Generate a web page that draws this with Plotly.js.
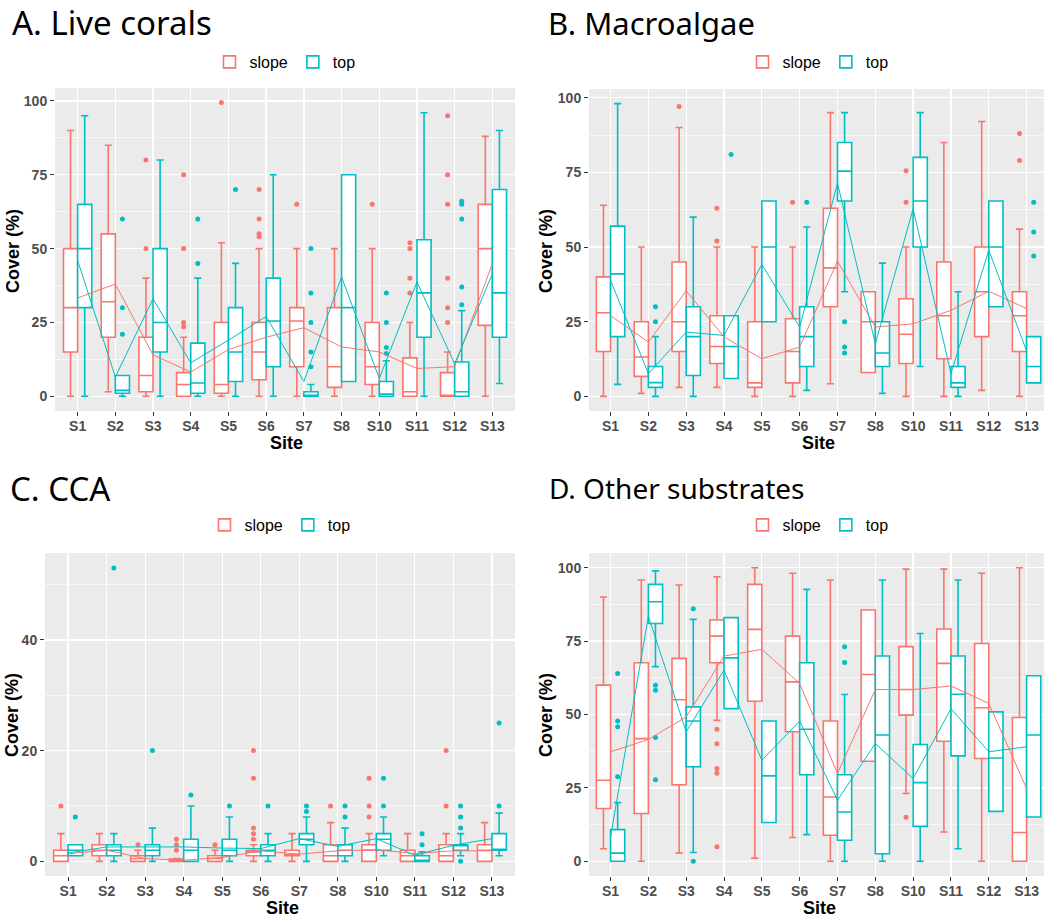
<!DOCTYPE html>
<html><head><meta charset="utf-8">
<script src="https://cdn.plot.ly/plotly-3.0.1.min.js"></script>
<style>html,body{margin:0;padding:0;background:#fff}#chart{width:1044px;height:918px}</style>
</head><body><div id="chart"></div>
<script>
const sites = ['S1','S2','S3','S4','S5','S6','S7','S8','S10','S11','S12','S13'];
const groups = ['slope','top'];

// A. Live corals
const coralSlopeLow  = [0, 1.5, 0, 0, 0, 0, 0, 0, 0, 0, 0, 0];
const coralSlopeQ1   = [15, 20, 1.5, 0, 1, 5.6, 10, 3, 4, 0, 0, 24];
const coralSlopeMed  = [30, 32, 7, 4, 4, 15, 25.5, 10, 10, 1.5, 0, 50];
const coralSlopeQ3   = [50, 55, 20, 8, 25, 25, 30, 30, 25, 13, 8, 65];
const coralSlopeHigh = [90, 85, 40, 20, 52, 50, 50, 50, 50, 25, 15, 88];
const coralSlopeOut  = [[], [], [80, 50, 25, 23.5], [75, 50, 25, 23.5], [99.5], [70, 60, 55, 54], [65], [], [65], [52, 50, 40, 35], [95, 75, 65, 40, 30, 25], []];
const coralSlopeMean = [33.3, 38, 14, 8.2, 15.8, 20, 23.2, 16.7, 15, 9.4, 10, 45];
const coralTopLow  = [0, 0, 0, 0, 0, 0, 0, 5, 0, 0, 0, 4.3];
const coralTopQ1   = [30, 1, 15, 1, 5, 10, 0, 5, 0, 20, 0, 20];
const coralTopMed  = [50, 2, 25, 4.5, 15, 25.5, 0, 30, 0.7, 35, 1.5, 35];
const coralTopQ3   = [65, 7, 50, 18, 30, 40, 1.5, 75, 5, 53, 11.6, 70];
const coralTopHigh = [95, 7, 80, 40, 45, 75, 4, 75, 12, 96, 29, 90];
const coralTopOut  = [[], [60, 30, 21], [], [60, 45], [70], [], [50, 35, 25, 15, 10], [], [35, 25, 16.5, 14.5], [], [66, 65, 60, 37, 31], []];
const coralTopMean = [46, 6.5, 33, 11.3, 19, 27, 5, 40.4, 6, 38.7, 11, 41.5];

// B. Macroalgae
const algaeSlopeLow  = [0, 1, 3, 3, 0, 0, 4.2, 8, 0, 0, 2, 0];
const algaeSlopeQ1   = [15, 6.7, 15, 11, 3, 4.5, 30, 8, 11, 12.6, 20, 15];
const algaeSlopeMed  = [28, 13.2, 25, 16.7, 4.5, 15, 43, 25, 20.8, 27, 35, 27];
const algaeSlopeQ3   = [40, 25, 45, 27, 25, 26, 63, 35, 32.7, 45, 50, 35];
const algaeSlopeHigh = [64, 50, 90, 50, 50, 50, 95, 35, 50, 85, 92, 56];
const algaeSlopeOut  = [[], [], [97], [63, 52], [], [65], [], [], [75.5, 65], [], [], [88, 79]];
const algaeSlopeMean = [27, 18.2, 35.3, 19.9, 12.6, 16.5, 45.3, 23.2, 24.3, 28.8, 35.2, 29.4];
const algaeTopLow  = [4, 0, 0, 6, 25, 2, 35, 1, 10, 0, 30, 4.5];
const algaeTopQ1   = [20, 3, 7, 6, 25, 10, 65.4, 10, 50, 3, 30, 4.5];
const algaeTopMed  = [41, 4.6, 20, 16.7, 50, 20, 75.4, 14.5, 65.4, 4.5, 50, 10];
const algaeTopQ3   = [57, 10, 30, 27, 65.4, 30, 85, 25, 80, 10, 65.4, 20];
const algaeTopHigh = [98, 20, 60, 27, 65.4, 56.7, 95, 44.6, 95, 35, 65.4, 20];
const algaeTopOut  = [[], [30, 25], [], [81], [], [65], [25, 16.5, 14.5], [], [], [25, 22], [], [65, 55, 47]];
const algaeTopMean = [38.8, 7.6, 21.5, 20.4, 44.2, 23.2, 71.4, 17.6, 62.8, 7.6, 48.9, 15.2];

// C. CCA
const ccaSlopeLow  = [0, 0, 0, 0, 0, 0, 0, 0, 0, 0, 0, 0];
const ccaSlopeQ1   = [0, 1, 0, 0, 0, 1, 1, 0, 0, 0, 0, 0];
const ccaSlopeMed  = [1, 2, 0.5, 0, 0.5, 1.7, 1, 1, 2, 1, 1, 2];
const ccaSlopeQ3   = [2, 3, 1, 0.4, 1, 2, 2, 3, 3, 2, 3, 3];
const ccaSlopeHigh = [5, 5, 2, 0.5, 2, 3, 5, 7, 5, 5, 5, 7];
const ccaSlopeOut  = [[10], [], [3], [4, 3, 2], [3], [20, 15, 6, 5, 4], [], [10], [15, 10, 8], [], [20, 10], []];
const ccaSlopeMean = [1.4, 2, 0.5, 0.2, 0.7, 1.9, 1.3, 1.9, 2.1, 1.4, 1.9, 1.9];
const ccaTopLow  = [1, 0, 0, 0, 0, 0, 0, 0, 1, 0, 1, 1];
const ccaTopQ1   = [1, 1, 1, 0, 1, 1, 3, 1, 2, 0, 2, 2];
const ccaTopMed  = [2, 2, 2, 2, 2, 2, 4, 2, 4, 0, 2.9, 2];
const ccaTopQ3   = [3, 3, 3, 4, 4, 3, 5, 3, 5, 1, 3, 5];
const ccaTopHigh = [3, 5, 6, 10, 8, 5, 8, 6, 8, 1.7, 5, 8.7];
const ccaTopOut  = [[8], [53], [20], [12], [10], [10], [10, 9], [10, 8], [15, 10], [5, 3], [10, 8, 6, 5, 0], [25, 10]];
const ccaTopMean = [1.5, 2.6, 2.6, 2.6, 2.4, 2.3, 4.1, 2.7, 4.1, 1.1, 2.9, 4.1];

// D. Other substrates
const otherSlopeLow  = [4.3, 0, 2.8, 48, 1.1, 8.1, 0, 34.1, 23.1, 10, 0, 0];
const otherSlopeQ1   = [18, 16.3, 26.1, 67.6, 54.5, 44.1, 8.9, 34.1, 49.8, 40.9, 35, 0];
const otherSlopeMed  = [27.6, 41.8, 55, 76.7, 79, 61.1, 21.9, 63.6, 58.5, 67.4, 52.3, 9.8];
const otherSlopeQ3   = [60, 67.6, 69.1, 82.2, 94.3, 76.7, 47.8, 85.6, 73.1, 79.1, 74.2, 49];
const otherSlopeHigh = [90, 95.8, 94.1, 96.9, 100, 98.1, 95.8, 85.6, 99.5, 99.5, 98.1, 100];
const otherSlopeOut  = [[], [], [], [45, 40, 31.6, 30, 5], [], [], [], [], [15], [], [], []];
const otherSlopeMean = [37.3, 41.5, 49.2, 69.9, 72.2, 60.6, 29.9, 58.5, 58.5, 59.7, 53.8, 24.8];
const otherTopLow  = [0, 66.3, 3, 52, 13.2, 9.1, 0, 0, 0, 4.3, 17, 15.1];
const otherTopQ1   = [0, 81, 32.2, 52, 13.2, 29.5, 7.2, 2.6, 11.9, 35.9, 17, 15.1];
const otherTopMed  = [2.8, 88.4, 47.8, 69.3, 29.1, 45, 16.8, 43, 26.8, 56.9, 35.2, 43];
const otherTopQ3   = [10.8, 94.3, 52.6, 83, 47.8, 67.6, 29.5, 69.9, 39.8, 69.9, 50.9, 63.2];
const otherTopHigh = [20, 98.9, 82.4, 83, 47.8, 92.6, 56.8, 95.8, 77.6, 95.8, 50.9, 63.2];
const otherTopOut  = [[64, 47.8, 45.8, 28.8], [60, 58.3, 42.2, 27.8], [86, 0], [], [], [], [73.1, 67.7], [], [], [], [], []];
const otherTopMean = [8.3, 83.5, 44.1, 65.1, 34.4, 47.8, 20.8, 40.1, 28.2, 52, 37.3, 39];

const panelTitles = ['A. Live corals', 'B. Macroalgae', 'C. CCA', 'D. Other substrates'];
const colors = {slope: '#F8766D', top: '#00BFC4'};

const panels = [
  {id: 'A', xa: 'x',  ya: 'y',  lg: 'legend',
   slope: [coralSlopeLow, coralSlopeQ1, coralSlopeMed, coralSlopeQ3, coralSlopeHigh, coralSlopeOut, coralSlopeMean],
   top:   [coralTopLow, coralTopQ1, coralTopMed, coralTopQ3, coralTopHigh, coralTopOut, coralTopMean]},
  {id: 'B', xa: 'x2', ya: 'y2', lg: 'legend2',
   slope: [algaeSlopeLow, algaeSlopeQ1, algaeSlopeMed, algaeSlopeQ3, algaeSlopeHigh, algaeSlopeOut, algaeSlopeMean],
   top:   [algaeTopLow, algaeTopQ1, algaeTopMed, algaeTopQ3, algaeTopHigh, algaeTopOut, algaeTopMean]},
  {id: 'C', xa: 'x3', ya: 'y3', lg: 'legend3',
   slope: [ccaSlopeLow, ccaSlopeQ1, ccaSlopeMed, ccaSlopeQ3, ccaSlopeHigh, ccaSlopeOut, ccaSlopeMean],
   top:   [ccaTopLow, ccaTopQ1, ccaTopMed, ccaTopQ3, ccaTopHigh, ccaTopOut, ccaTopMean]},
  {id: 'D', xa: 'x4', ya: 'y4', lg: 'legend4',
   slope: [otherSlopeLow, otherSlopeQ1, otherSlopeMed, otherSlopeQ3, otherSlopeHigh, otherSlopeOut, otherSlopeMean],
   top:   [otherTopLow, otherTopQ1, otherTopMed, otherTopQ3, otherTopHigh, otherTopOut, otherTopMean]}
];

const traces = [];
const lines = [];
panels.forEach(p => {
  groups.forEach(g => {
    const [low, q1, med, q3, high, out, mean] = p[g];
    traces.push({
      type: 'box', name: g, orientation: 'v',
      x: sites, q1: q1, median: med, q3: q3, lowerfence: low, upperfence: high,
      y: out.map(a => a.length ? a : [null]),
      boxpoints: 'outliers', jitter: 0, pointpos: 0,
      alignmentgroup: p.id, offsetgroup: g,
      fillcolor: '#FFFFFF', line: {color: colors[g], width: 1.6},
      marker: {color: colors[g], size: 5, line: {width: 0}},
      xaxis: p.xa, yaxis: p.ya, legend: p.lg, legendgroup: p.id + g,
      hoverinfo: 'skip'
    });
    lines.push({
      type: 'scatter', mode: 'lines', x: sites, y: mean, name: g,
      line: {color: colors[g], width: 1},
      xaxis: p.xa, yaxis: p.ya, showlegend: false, hoverinfo: 'skip'
    });
  });
});

const W = 1044, H = 918;
const px = v => v / W;
const py = v => 1 - v / H;

const tickFont = {family: 'Liberation Sans, Arial, sans-serif', size: 14, color: '#4D4D4D', weight: 700};
function xAxis(dom, range) {
  return {domain: dom, type: 'category', range: range, showgrid: true, gridcolor: '#FFFFFF', gridwidth: 1.3,
    zeroline: false, showline: false, ticks: 'outside', ticklen: 4, tickcolor: '#333333', tickwidth: 1,
    ticklabelstandoff: -2, tickfont: tickFont, fixedrange: true};
}
function yAxis(dom, range, major, minor) {
  return {domain: dom, range: range, tickmode: 'array', tickvals: major, ticktext: major.map(String),
    showgrid: true, gridcolor: '#FFFFFF', gridwidth: 1.3, zeroline: false, showline: false,
    ticks: 'outside', ticklen: 4, tickcolor: '#333333', tickwidth: 1, tickfont: tickFont,
    minor: {tickmode: 'array', tickvals: minor, showgrid: true, gridcolor: '#FFFFFF', gridwidth: 0.6, ticks: ''},
    fixedrange: true};
}

const topRowY = [py(411), py(88)];
const botRowY = [py(876), py(553)];
const leftA = [px(55), px(515)];
const leftC = [px(45), px(515)];
const right = [px(589), 1];

const legendBase = {orientation: 'h', xanchor: 'center', yanchor: 'middle', bgcolor: 'rgba(0,0,0,0)',
  font: {family: 'Liberation Sans, Arial, sans-serif', size: 16, color: '#000000'}, itemwidth: 30, tracegroupgap: 0};

const annFontTitle = {family: 'Noto Sans, Open Sans, sans-serif', color: '#000000'};
const axTitleFont = {family: 'Liberation Sans, Arial, sans-serif', size: 18, color: '#000000', weight: 700};

function ann(text, x, y, opts) {
  return Object.assign({text: text, x: px(x), y: py(y), xref: 'paper', yref: 'paper', showarrow: false,
    xanchor: 'center', yanchor: 'middle'}, opts);
}

const annotations = [
  ann(panelTitles[0], 10, 23, {xanchor: 'left', font: Object.assign({size: 33}, annFontTitle)}),
  ann(panelTitles[1], 546, 23, {xanchor: 'left', font: Object.assign({size: 31}, annFontTitle)}),
  ann(panelTitles[2], 8, 488, {xanchor: 'left', font: Object.assign({size: 33}, annFontTitle)}),
  ann(panelTitles[3], 547, 488, {xanchor: 'left', font: Object.assign({size: 28}, annFontTitle)}),
  ann('Cover (%)', 13, 251, {textangle: -90, font: axTitleFont}),
  ann('Cover (%)', 546, 251, {textangle: -90, font: axTitleFont}),
  ann('Cover (%)', 12, 715, {textangle: -90, font: axTitleFont}),
  ann('Cover (%)', 546, 715, {textangle: -90, font: axTitleFont}),
  ann('Site', 286, 443, {font: axTitleFont}),
  ann('Site', 818, 443, {font: axTitleFont}),
  ann('Site', 282, 908, {font: axTitleFont}),
  ann('Site', 819, 908, {font: axTitleFont})
];

const layout = {
  width: W, height: H, margin: {l: 0, r: 0, t: 0, b: 0},
  paper_bgcolor: '#FFFFFF', plot_bgcolor: '#EBEBEB',
  boxmode: 'group', boxgap: 0.25, boxgroupgap: 0,
  showlegend: true,
  xaxis:  Object.assign(xAxis(leftA, [-0.6, 11.6]), {anchor: 'y'}),
  yaxis:  Object.assign(yAxis(topRowY, [-5, 104.4], [0, 25, 50, 75, 100], [12.5, 37.5, 62.5, 87.5]), {anchor: 'x'}),
  xaxis2: Object.assign(xAxis(right, [-0.57, 11.46]), {anchor: 'y2'}),
  yaxis2: Object.assign(yAxis([py(411), py(89)], [-4.9, 102.9], [0, 25, 50, 75, 100], [12.5, 37.5, 62.5, 87.5]), {anchor: 'x2'}),
  xaxis3: Object.assign(xAxis(leftC, [-0.6, 11.6]), {anchor: 'y3'}),
  yaxis3: Object.assign(yAxis(botRowY, [-2.65, 55.7], [0, 20, 40], [10, 30, 50]), {anchor: 'x3'}),
  xaxis4: Object.assign(xAxis(right, [-0.57, 11.46]), {anchor: 'y4'}),
  yaxis4: Object.assign(yAxis(botRowY, [-5, 105], [0, 25, 50, 75, 100], [12.5, 37.5, 62.5, 87.5]), {anchor: 'x4'}),
  legend:  Object.assign({x: px(285), y: py(62)}, legendBase),
  legend2: Object.assign({x: px(818), y: py(62)}, legendBase),
  legend3: Object.assign({x: px(280), y: py(525)}, legendBase),
  legend4: Object.assign({x: px(818), y: py(525)}, legendBase),
  annotations: annotations
};

Plotly.newPlot('chart', traces.concat(lines), layout, {displayModeBar: false, staticPlot: true});
</script></body></html>
